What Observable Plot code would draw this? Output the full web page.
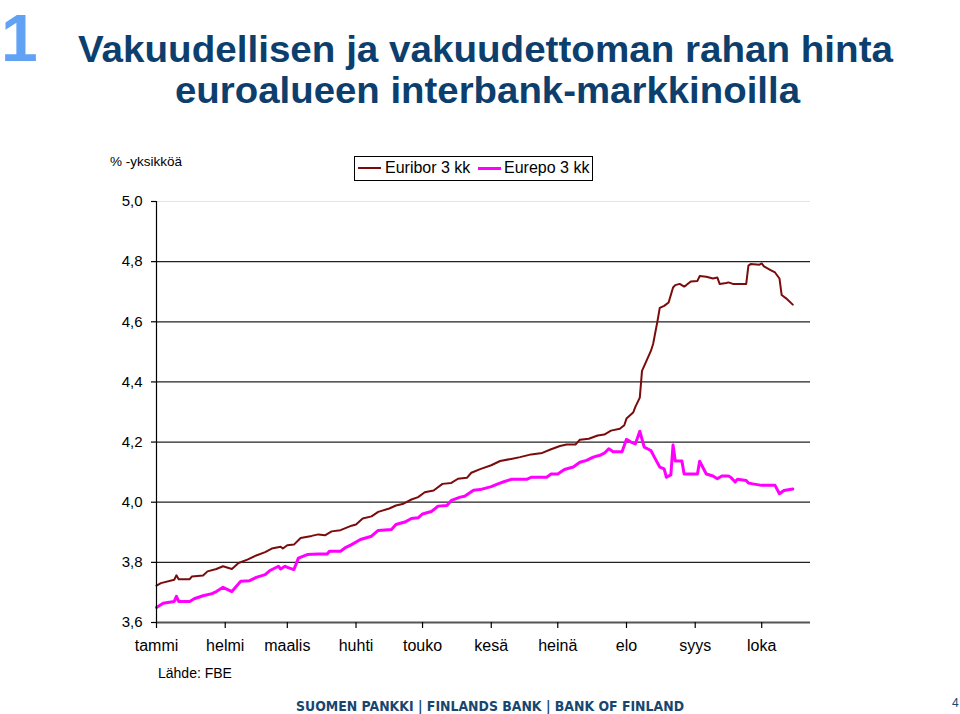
<!DOCTYPE html>
<html><head><meta charset="utf-8">
<script src="https://cdn.jsdelivr.net/npm/d3@7"></script>
<script src="https://cdn.jsdelivr.net/npm/@observablehq/plot@0.6"></script>
<style>
body{margin:0;background:#fff;}
#page{position:relative;width:960px;height:714px;overflow:hidden;font-family:"Liberation Sans",Arial,sans-serif;background:#fff;}
.abs{position:absolute;white-space:nowrap;line-height:1;}
#chart{position:absolute;left:0;top:190px;}
</style></head><body><div id="page"></div>
<script>
// ---- data ----
const euribor3kk = [
["2007-01-01",3.723],["2007-01-03",3.731],["2007-01-09",3.742],["2007-01-10",3.757],["2007-01-11",3.744],
["2007-01-16",3.744],["2007-01-17",3.753],["2007-01-22",3.756],["2007-01-24",3.770],["2007-01-28",3.778],
["2007-01-31",3.787],["2007-02-04",3.778],["2007-02-07",3.798],["2007-02-11",3.809],["2007-02-15",3.823],
["2007-02-19",3.834],["2007-02-22",3.846],["2007-02-26",3.852],["2007-02-27",3.846],["2007-03-01",3.857],
["2007-03-04",3.859],["2007-03-07",3.881],["2007-03-12",3.888],["2007-03-15",3.893],["2007-03-18",3.890],
["2007-03-21",3.903],["2007-03-25",3.907],["2007-03-30",3.922],["2007-04-01",3.926],["2007-04-04",3.946],
["2007-04-08",3.953],["2007-04-11",3.968],["2007-04-16",3.979],["2007-04-19",3.989],["2007-04-22",3.994],
["2007-04-26",4.009],["2007-04-29",4.017],["2007-05-02",4.033],["2007-05-06",4.039],["2007-05-10",4.061],
["2007-05-14",4.064],["2007-05-17",4.078],["2007-05-21",4.081],["2007-05-23",4.098],["2007-05-27",4.110],
["2007-06-01",4.123],["2007-06-05",4.137],["2007-06-10",4.144],["2007-06-14",4.150],["2007-06-19",4.159],
["2007-06-24",4.164],["2007-06-28",4.176],["2007-07-02",4.187],["2007-07-05",4.192],["2007-07-09",4.192],
["2007-07-11",4.208],["2007-07-15",4.211],["2007-07-19",4.222],["2007-07-22",4.225],["2007-07-25",4.238],
["2007-07-29",4.244],["2007-07-31",4.256],["2007-08-01",4.278],["2007-08-04",4.298],["2007-08-05",4.317],
["2007-08-07",4.348],["2007-08-08",4.437],["2007-08-10",4.470],["2007-08-12",4.503],["2007-08-13",4.526],
["2007-08-15",4.603],["2007-08-16",4.646],["2007-08-18",4.653],["2007-08-20",4.664],["2007-08-22",4.714],
["2007-08-23",4.722],["2007-08-25",4.726],["2007-08-27",4.717],["2007-08-28",4.722],["2007-08-30",4.734],
["2007-09-02",4.736],["2007-09-03",4.752],["2007-09-06",4.750],["2007-09-09",4.744],["2007-09-11",4.747],
["2007-09-12",4.726],["2007-09-15",4.729],["2007-09-16",4.731],["2007-09-18",4.726],["2007-09-24",4.726],
["2007-09-25",4.787],["2007-09-26",4.792],["2007-09-30",4.790],["2007-10-01",4.794],["2007-10-02",4.784],
["2007-10-05",4.772],["2007-10-07",4.764],["2007-10-09",4.744],["2007-10-10",4.689],["2007-10-12",4.678],
["2007-10-15",4.657]
];
const eurepo3kk = [
["2007-01-01",3.650],["2007-01-04",3.664],["2007-01-09",3.670],["2007-01-10",3.687],["2007-01-11",3.670],
["2007-01-16",3.670],["2007-01-18",3.679],["2007-01-22",3.689],["2007-01-26",3.696],["2007-01-28",3.703],
["2007-01-31",3.717],["2007-02-04",3.703],["2007-02-08",3.737],["2007-02-12",3.739],["2007-02-15",3.750],
["2007-02-19",3.759],["2007-02-21",3.772],["2007-02-25",3.787],["2007-02-26",3.778],["2007-02-28",3.787],
["2007-03-02",3.781],["2007-03-04",3.776],["2007-03-06",3.814],["2007-03-10",3.826],["2007-03-15",3.828],
["2007-03-19",3.828],["2007-03-20",3.837],["2007-03-25",3.837],["2007-03-27",3.848],["2007-03-30",3.859],
["2007-04-03",3.876],["2007-04-08",3.887],["2007-04-11",3.906],["2007-04-17",3.909],["2007-04-19",3.926],
["2007-04-23",3.934],["2007-04-26",3.946],["2007-04-29",3.948],["2007-05-01",3.961],["2007-05-05",3.969],
["2007-05-08",3.987],["2007-05-12",3.989],["2007-05-14",4.006],["2007-05-18",4.017],["2007-05-20",4.020],
["2007-05-24",4.040],["2007-05-27",4.042],["2007-06-01",4.052],["2007-06-04",4.061],["2007-06-07",4.069],
["2007-06-10",4.076],["2007-06-17",4.076],["2007-06-19",4.083],["2007-06-26",4.083],["2007-06-28",4.094],
["2007-07-01",4.094],["2007-07-04",4.109],["2007-07-08",4.117],["2007-07-11",4.133],["2007-07-14",4.139],
["2007-07-17",4.150],["2007-07-20",4.156],["2007-07-22",4.163],["2007-07-24",4.178],["2007-07-26",4.168],
["2007-07-30",4.168],["2007-08-01",4.209],["2007-08-03",4.200],["2007-08-05",4.194],["2007-08-07",4.236],
["2007-08-09",4.183],["2007-08-12",4.172],["2007-08-14",4.144],["2007-08-16",4.117],["2007-08-18",4.111],
["2007-08-19",4.083],["2007-08-21",4.091],["2007-08-22",4.190],["2007-08-23",4.137],["2007-08-26",4.137],
["2007-08-27",4.094],["2007-09-02",4.094],["2007-09-03",4.136],["2007-09-06",4.094],["2007-09-09",4.087],
["2007-09-11",4.078],["2007-09-13",4.087],["2007-09-16",4.087],["2007-09-17",4.083],["2007-09-19",4.067],
["2007-09-20",4.076],["2007-09-24",4.072],["2007-09-25",4.064],["2007-09-27",4.061],["2007-10-01",4.056],
["2007-10-07",4.056],["2007-10-09",4.028],["2007-10-11",4.039],["2007-10-15",4.044]
];
const monthStarts = ["2007-01-01","2007-02-01","2007-03-01","2007-04-01","2007-05-01","2007-06-01","2007-07-01","2007-08-01","2007-09-01","2007-10-01"];
const monthLabels = ["tammi","helmi","maalis","huhti","touko","kesä","heinä","elo","syys","loka"];
const yTicks = [3.6,3.8,4.0,4.2,4.4,4.6,4.8,5.0];
const gridTicks = [3.8,4.0,4.2,4.4,4.6,4.8];
const xDomain = ["2007-01-01","2007-10-23"];
const seriesNames = ["Euribor 3 kk","Eurepo 3 kk"];
const seriesColors = ["#7a0c0c","#ff00ff"];

const parse = d3.utcParse("%Y-%m-%d");
const page = document.getElementById("page");

function addText(txt, opts){
  const el = document.createElement("div");
  el.className = "abs";
  el.textContent = txt;
  const fs = opts.size;
  const lh = opts.lineHeight || 1;
  el.style.fontSize = fs + "px";
  el.style.lineHeight = lh;
  el.style.fontFamily = opts.family || '"Liberation Sans",Arial,sans-serif';
  if (opts.bold) el.style.fontWeight = "bold";
  el.style.color = opts.color || "#000";
  el.style.left = opts.left + "px";
  el.style.top = (opts.baseline - (lh/2 + 0.3465)*fs) + "px";
  page.appendChild(el);
  if (opts.width){
    const w = el.getBoundingClientRect().width;
    el.style.transformOrigin = "0 0";
    el.style.transform = `scaleX(${opts.width / w})`;
  }
  return el;
}

const navy = "#0d3f6e";
addText("1", {left:1, baseline:61, size:66, bold:true, color:"#62a2f4"});
addText("Vakuudellisen ja vakuudettoman rahan hinta", {left:78, baseline:62, size:37, bold:true, color:navy, width:815,
  family:'"Liberation Sans Narrow","Liberation Sans",Arial,sans-serif'});
addText("euroalueen interbank-markkinoilla", {left:175, baseline:103, size:37, bold:true, color:navy, width:625,
  family:'"Liberation Sans Narrow","Liberation Sans",Arial,sans-serif'});
addText("% -yksikköä", {left:110, baseline:166, size:13.5});
addText("Lähde: FBE", {left:158, baseline:678, size:14});
addText("SUOMEN PANKKI | FINLANDS BANK | BANK OF FINLAND", {left:296, baseline:711, size:13.5, bold:true, color:"#17466f", width:388,
  family:'"DejaVu Sans",Verdana,sans-serif'});
addText("4", {left:952, baseline:707, size:12, color:"#17466f"});

// legend
const lg = document.createElement("div");
lg.style.cssText = "position:absolute;left:354px;top:156px;width:239px;height:25px;box-sizing:border-box;border:1px solid #000;background:#fff;";
page.appendChild(lg);
const swatchPos = [[358,23,2],[478,23,3]];
const textPos = [385,504];
seriesNames.forEach((n,i)=>{
  const s = document.createElement("div");
  s.style.cssText = `position:absolute;left:${swatchPos[i][0]}px;top:${168-swatchPos[i][2]/2}px;width:${swatchPos[i][1]}px;height:${swatchPos[i][2]}px;background:${seriesColors[i]};`;
  page.appendChild(s);
  addText(n, {left:textPos[i], baseline:174, size:16});
});

const fmt = d => d.toFixed(1).replace(".", ",");
const chart = Plot.plot({
  width: 960,
  height: 470,
  marginLeft: 156,
  marginRight: 150,
  marginTop: 11,
  marginBottom: 38,
  style: {fontFamily: '"Liberation Sans",Arial,sans-serif', fontSize: "15px", background: "transparent", color:"#000"},
  x: {type: "utc", domain: xDomain.map(parse), axis: null},
  y: {domain: [3.6, 5.0], axis: null},
  marks: [
    Plot.ruleY([5.0], {stroke: "#e4e4e4", strokeWidth: 1}),
    Plot.ruleY(gridTicks, {stroke: "#222", strokeWidth: 1.2}),
    Plot.line(eurepo3kk, {x: d => parse(d[0]), y: d => d[1], stroke: seriesColors[1], strokeWidth: 3, strokeLinejoin: "round"}),
    Plot.line(euribor3kk, {x: d => parse(d[0]), y: d => d[1], stroke: seriesColors[0], strokeWidth: 2, strokeLinejoin: "round"}),
    Plot.ruleY([3.6], {stroke: "#555", strokeWidth: 2}),
    Plot.frame({anchor: "left", stroke: "#000", strokeWidth: 1.2}),
    Plot.axisY(yTicks, {tickSize: 5, tickPadding: 9, tickFormat: fmt, fontSize: 15, stroke: "#000", strokeWidth: 1.2}),
    Plot.axisX(monthStarts.map(parse), {tickSize: 6, tickPadding: 11, fontSize: 16, stroke: "#000", strokeWidth: 1.2,
      tickFormat: d => monthLabels[d.getUTCMonth()]})
  ]
});
chart.id = "chart";
page.appendChild(chart);
</script>
</body></html>
